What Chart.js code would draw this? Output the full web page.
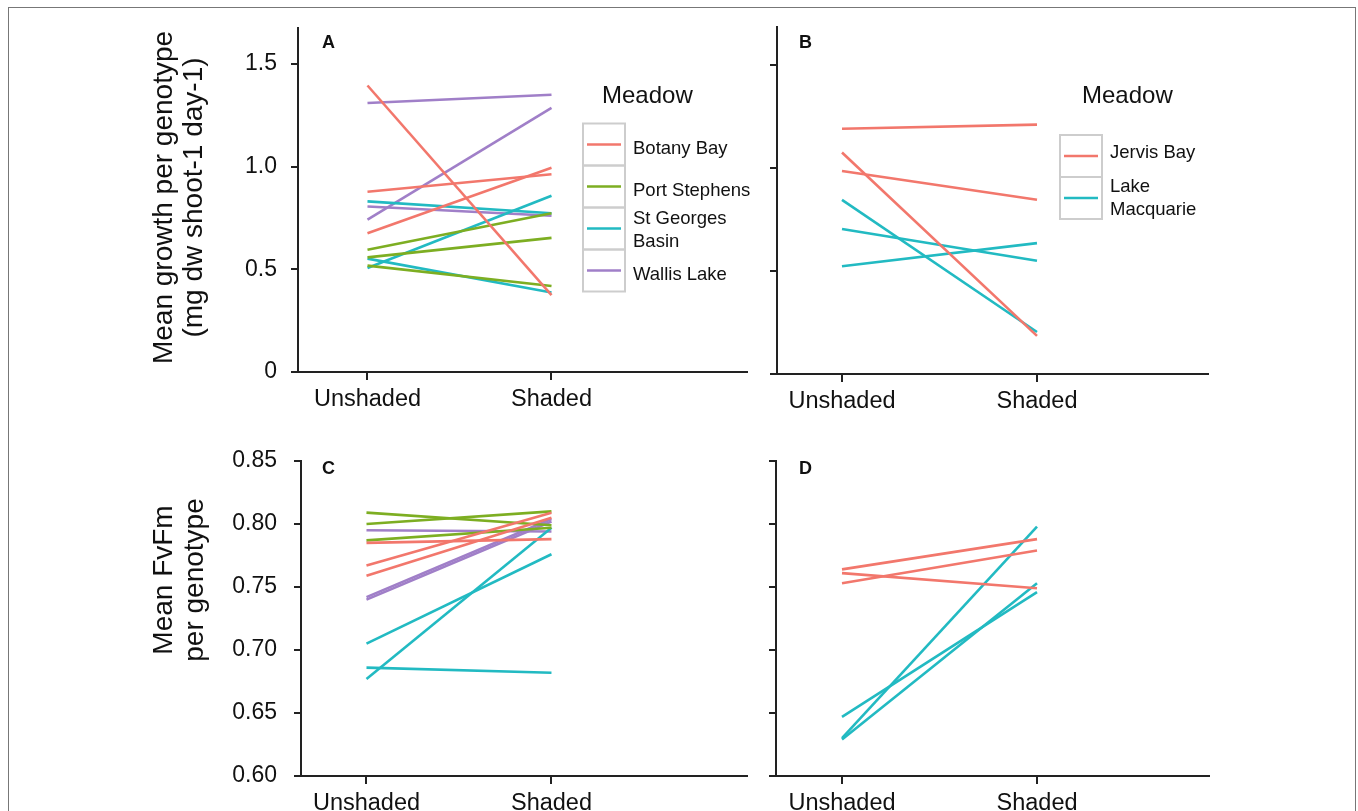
<!DOCTYPE html>
<html>
<head>
<meta charset="utf-8">
<script src="https://cdn.jsdelivr.net/npm/chart.js@4.4.0/dist/chart.umd.min.js"></script>
<style>
    html, body { margin: 0; padding: 0; background: #fff; }
    body { width: 1358px; height: 811px; position: relative; overflow: hidden; }
    canvas { position: absolute; }
    #frame { position: absolute; left: 8px; top: 7px; width: 1346px; height: 840px; border: 1px solid #777; pointer-events: none; }
</style>
</head>
<body>
<canvas id="panelA" width="760" height="430" style="left:0;top:0"></canvas>
<canvas id="panelB" width="598" height="430" style="left:760px;top:0"></canvas>
<canvas id="panelC" width="760" height="381" style="left:0;top:430px"></canvas>
<canvas id="panelD" width="598" height="381" style="left:760px;top:430px"></canvas>
<div id="frame"></div>
<script>
// ===================== Dados =====================
const conditions = ["Unshaded", "Shaded"];
const legendTitle = "Meadow";

// crescimento (A) - [unshaded, shaded] por genótipo
const growthBotanyBay = [[1.395, 0.374], [0.878, 0.963], [0.676, 0.995]];
const growthPortStephens = [[0.595, 0.773], [0.558, 0.653], [0.518, 0.419]];
const growthStGeorges = [[0.831, 0.773], [0.552, 0.387], [0.506, 0.858]];
const growthWallisLake = [[1.310, 1.350], [0.742, 1.286], [0.806, 0.761]];

// crescimento (B)
const growthJervisBay = [[1.190, 1.210], [1.075, 0.185], [0.985, 0.846]];
const growthLakeMacquarie = [[0.845, 0.204], [0.704, 0.550], [0.523, 0.635]];

// FvFm (C)
const fvBotanyBay = [[0.785, 0.788], [0.767, 0.809], [0.759, 0.805]];
const fvPortStephens = [[0.809, 0.799], [0.800, 0.810], [0.787, 0.797]];
const fvStGeorges = [[0.705, 0.776], [0.686, 0.682], [0.677, 0.797]];
const fvWallisLake = [[0.795, 0.794], [0.742, 0.804], [0.740, 0.802]];

// FvFm (D)
const fvJervisBay = [[0.764, 0.788], [0.761, 0.749], [0.753, 0.779]];
const fvLakeMacquarie = [[0.647, 0.746], [0.630, 0.798], [0.629, 0.753]];

const meadowsA = [["Botany Bay"], ["Port Stephens"], ["St Georges", "Basin"], ["Wallis Lake"]];
const meadowsB = [["Jervis Bay"], ["Lake", "Macquarie"]];

const growthTitle = ["Mean growth per genotype", "(mg dw shoot-1 day-1)"];
const fvTitle = ["Mean FvFm", "per genotype"];

// ===================== Estilo =====================
const FONT = '"Liberation Sans", Arial, Helvetica, sans-serif';
const RED = "#F2776C", GREEN = "#7DAE22", CYAN = "#22BAC2", PURPLE = "#A07FC8";
const AXIS = "#222";

// ===================== Plugin de decoração =====================
const decor = {
    id: "decor",
    afterDraw(chart, args, o) {
        const ctx = chart.ctx;
        const area = chart.chartArea;
        ctx.save();
        // pequeno prolongamento do eixo x à esquerda do eixo y
        ctx.strokeStyle = AXIS;
        ctx.lineWidth = 2;
        ctx.beginPath();
        ctx.moveTo(area.left - 6, area.bottom);
        ctx.lineTo(area.left, area.bottom);
        ctx.stroke();

        ctx.fillStyle = "#111";
        ctx.textBaseline = "alphabetic";
        ctx.textAlign = "left";
        if (o.tag) {
            ctx.font = "bold 18px " + FONT;
            ctx.fillText(o.tag.text, o.tag.x, o.tag.y);
        }
        if (o.yTitle) {
            ctx.save();
            ctx.translate(o.yTitle.x, o.yTitle.y);
            ctx.rotate(-Math.PI / 2);
            ctx.textAlign = "center";
            ctx.font = "28px " + FONT;
            o.yTitle.lines.forEach((t, i) => ctx.fillText(t, 0, i * o.yTitle.gap));
            ctx.restore();
        }
        if (o.legend) {
            const L = o.legend;
            ctx.font = "24px " + FONT;
            ctx.fillText(legendTitle, L.titleX, L.titleY);
            L.labels.forEach((lab, i) => {
                const top = L.keyTop + i * L.key;
                const mid = top + L.key / 2;
                ctx.strokeStyle = "#cdcdcd";
                ctx.lineWidth = 2;
                ctx.strokeRect(L.keyX, top, L.key, L.key);
                ctx.strokeStyle = L.colours[i];
                ctx.lineWidth = 2.6;
                ctx.beginPath();
                ctx.moveTo(L.keyX + 4, mid);
                ctx.lineTo(L.keyX + L.key - 4, mid);
                ctx.stroke();
                ctx.font = "18.5px " + FONT;
                lab.forEach((t, j) => ctx.fillText(t, L.textX, mid + L.dy[i] + j * 22.7));
            });
        }
        ctx.restore();
    }
};

function buildDatasets(groups) {
    const sets = [];
    groups.forEach(g => g.rows.forEach(r => sets.push({
        data: [{ x: 1, y: r[0] }, { x: 2, y: r[1] }],
        borderColor: g.colour,
        borderWidth: 2.6,
        pointRadius: 0,
        fill: false,
        tension: 0
    })));
    return sets;
}

function makePanel(id, p) {
    return new Chart(document.getElementById(id), {
        type: "line",
        data: { datasets: buildDatasets(p.groups) },
        plugins: [decor],
        options: {
            responsive: false,
            animation: false,
            layout: { padding: p.pad },
            plugins: { legend: { display: false }, tooltip: { enabled: false }, decor: p.decor },
            scales: {
                x: {
                    type: "linear",
                    min: p.xMin,
                    max: p.xMax,
                    afterBuildTicks: ax => { ax.ticks = conditions.map((c, i) => ({ value: i + 1 })); },
                    afterFit: ax => { ax.height = p.xHeight; },
                    ticks: {
                        callback: v => conditions[Math.round(v) - 1] || "",
                        font: { family: FONT, size: 23.5 },
                        color: "#111",
                        padding: 5,
                        maxRotation: 0,
                        autoSkip: false
                    },
                    grid: { drawOnChartArea: false, drawTicks: true, tickLength: 8, color: AXIS, lineWidth: 2 },
                    border: { display: true, color: AXIS, width: 2 }
                },
                y: {
                    min: p.yMin,
                    max: p.yMax,
                    afterFit: ax => { ax.width = p.yWidth; },
                    ticks: {
                        stepSize: p.yStep,
                        includeBounds: false,
                        callback: p.yLabel,
                        font: { family: FONT, size: 23 },
                        color: "#111",
                        padding: p.yPad
                    },
                    grid: { drawOnChartArea: false, drawTicks: true, tickLength: 7, color: AXIS, lineWidth: 2 },
                    border: { display: true, color: AXIS, width: 2 }
                }
            }
        }
    });
}

// ===================== Painéis =====================
makePanel("panelA", {
    groups: [
        { rows: growthBotanyBay, colour: RED },
        { rows: growthPortStephens, colour: GREEN },
        { rows: growthStGeorges, colour: CYAN },
        { rows: growthWallisLake, colour: PURPLE }
    ],
    pad: { top: 26, right: 13, left: 0, bottom: 0 },
    xMin: 0.6223, xMax: 3.0625, xHeight: 58,
    yMin: 0, yMax: 1.676, yStep: 0.5, yWidth: 298, yPad: 14,
    yLabel: v => (v === 0 ? "0" : v.toFixed(1)),
    decor: {
        tag: { text: "A", x: 322, y: 48 },
        yTitle: { lines: growthTitle, x: 172, y: 197.5, gap: 30 },
        legend: {
            titleX: 602, titleY: 103,
            keyX: 583, keyTop: 123.5, key: 42, textX: 633,
            labels: meadowsA, colours: [RED, GREEN, CYAN, PURPLE],
            dy: [9.8, 9.8, -4.3, 9.8]
        }
    }
});

makePanel("panelB", {
    groups: [
        { rows: growthJervisBay, colour: RED },
        { rows: growthLakeMacquarie, colour: CYAN }
    ],
    pad: { top: 27, right: 150, left: 0, bottom: 0 },
    xMin: 0.6667, xMax: 2.877, xHeight: 56,
    yMin: 0, yMax: 1.684, yStep: 0.5, yWidth: 17, yPad: 4,
    yLabel: () => "",
    decor: {
        tag: { text: "B", x: 39, y: 48 },
        legend: {
            titleX: 322, titleY: 103,
            keyX: 300, keyTop: 135, key: 42, textX: 350,
            labels: meadowsB, colours: [RED, CYAN],
            dy: [2.3, -6]
        }
    }
});

makePanel("panelC", {
    groups: [
        { rows: fvBotanyBay, colour: RED },
        { rows: fvPortStephens, colour: GREEN },
        { rows: fvStGeorges, colour: CYAN },
        { rows: fvWallisLake, colour: PURPLE }
    ],
    pad: { top: 31, right: 13, left: 0, bottom: 0 },
    xMin: 0.646, xMax: 3.057, xHeight: 35,
    yMin: 0.6, yMax: 0.85, yStep: 0.05, yWidth: 301, yPad: 17,
    yLabel: v => v.toFixed(2),
    decor: {
        tag: { text: "C", x: 322, y: 44 },
        yTitle: { lines: fvTitle, x: 172, y: 150, gap: 31 }
    }
});

makePanel("panelD", {
    groups: [
        { rows: fvJervisBay, colour: RED },
        { rows: fvLakeMacquarie, colour: CYAN }
    ],
    pad: { top: 31, right: 149, left: 0, bottom: 0 },
    xMin: 0.6615, xMax: 2.882, xHeight: 35,
    yMin: 0.6, yMax: 0.85, yStep: 0.05, yWidth: 16, yPad: 4,
    yLabel: () => "",
    decor: {
        tag: { text: "D", x: 39, y: 44 }
    }
});
</script>
</body>
</html>
